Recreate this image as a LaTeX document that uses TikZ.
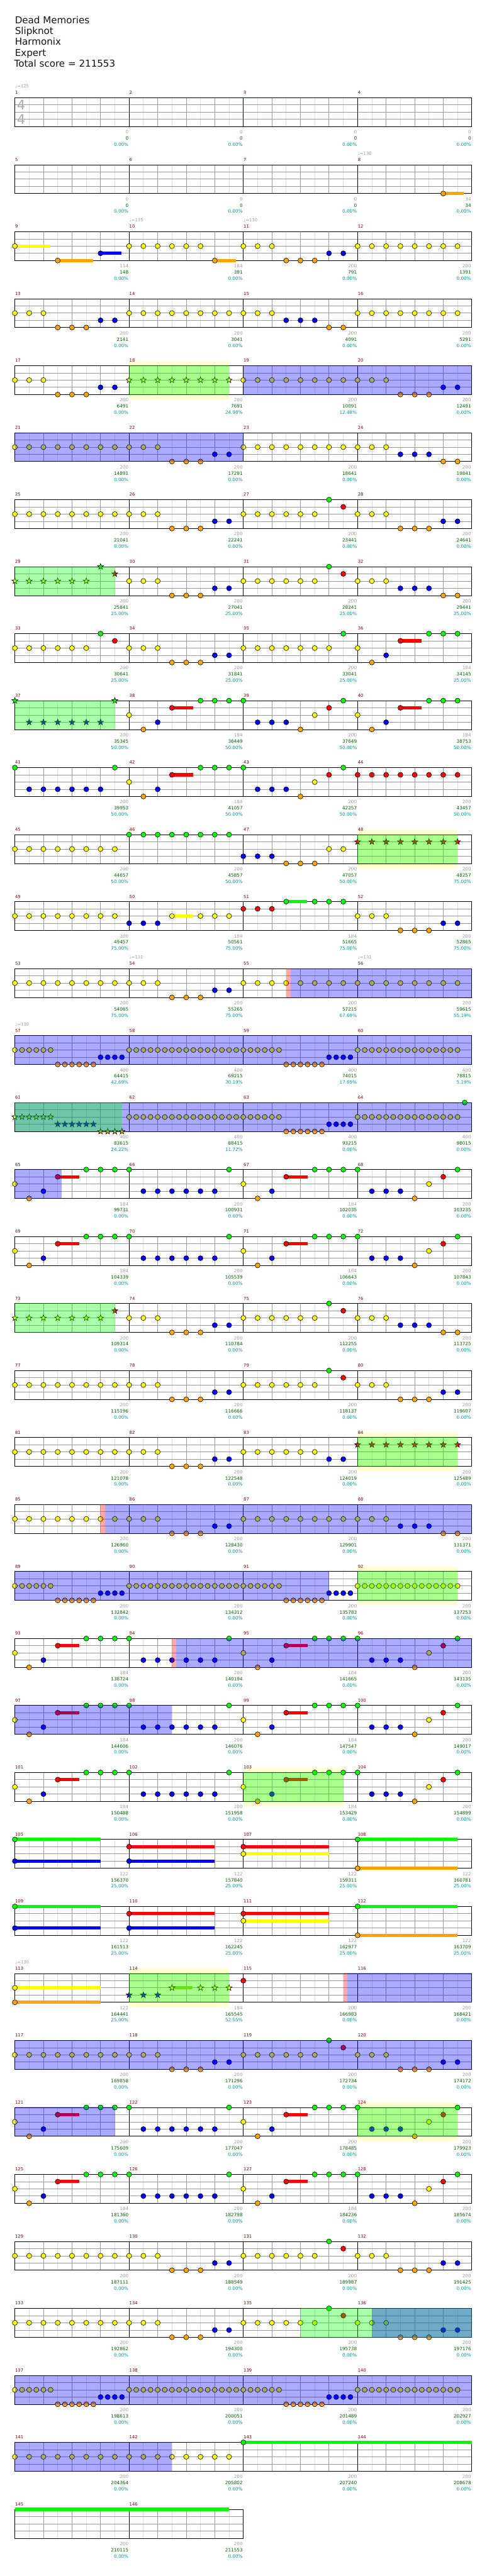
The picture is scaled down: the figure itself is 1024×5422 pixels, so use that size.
\documentclass[tikz,border=0pt]{standalone}
\usepackage{fontspec}
\setmainfont{DejaVu Sans}
\definecolor{ngreen}{RGB}{0,255,0}
\definecolor{nred}{RGB}{255,0,0}
\definecolor{nyellow}{RGB}{255,255,0}
\definecolor{nblue}{RGB}{0,0,255}
\definecolor{norange}{RGB}{255,165,0}
\definecolor{cMeasure}{RGB}{139,0,0}
\definecolor{cGrayTxt}{RGB}{160,160,160}
\definecolor{cGreenTxt}{RGB}{0,100,0}
\definecolor{cCyanTxt}{RGB}{0,153,153}
\definecolor{cQuarter}{RGB}{153,153,153}
\definecolor{cEighth}{RGB}{221,221,221}
\definecolor{cPaleY}{RGB}{255,255,208}
\definecolor{cTitle}{RGB}{20,20,20}
\tikzset{
  nt/.style={draw=black,line width=0.8},
  eighthline/.style={draw=cEighth,line width=1},
  quarterline/.style={draw=cQuarter,line width=1},
  barline/.style={draw=black,line width=1},
  mnum/.style={anchor=base west,inner sep=0,text=cMeasure,font=\fontsize{9}{10}\selectfont},
  tempomark/.style={anchor=base west,inner sep=0,text=cGrayTxt,font=\fontsize{9}{10}\selectfont},
  scA/.style={anchor=base east,inner sep=0,text=cGrayTxt,font=\fontsize{9.6}{11}\selectfont},
  scB/.style={anchor=base east,inner sep=0,text=cGreenTxt,font=\fontsize{9.6}{11}\selectfont},
  scC/.style={anchor=base east,inner sep=0,text=cCyanTxt,font=\fontsize{9.6}{11}\selectfont},
  titletxt/.style={anchor=base west,inner sep=0,text=cTitle,font=\fontsize{20}{23}\selectfont},
  timesig/.style={inner sep=0,text=black!33,font=\fontsize{28}{30}\selectfont}
}
\newcommand\nNote[4]{\foreach \p in {#4}{\draw[nt,fill=#3] ({31.3+\p*15.02},{205.7+141*#1+#2*15.17}) circle (5.3);}}
\newcommand\nStar[4]{\foreach \p in {#4}{\draw[nt,fill=#3,shift={({31.3+\p*15.02},{205.7+141*#1+#2*15.17})}] (270:6.6)--(306:2.7)--(342:6.6)--(18:2.7)--(54:6.6)--(90:2.7)--(126:6.6)--(162:2.7)--(198:6.6)--(234:2.7)--cycle;}}
\newcommand\nG[2]{\nNote{#1}{0}{ngreen}{#2}}
\newcommand\nR[2]{\nNote{#1}{1}{nred}{#2}}
\newcommand\nY[2]{\nNote{#1}{2}{nyellow}{#2}}
\newcommand\nB[2]{\nNote{#1}{3}{nblue}{#2}}
\newcommand\nO[2]{\nNote{#1}{4}{norange}{#2}}
\newcommand\stG[2]{\nStar{#1}{0}{ngreen}{#2}}
\newcommand\stR[2]{\nStar{#1}{1}{nred}{#2}}
\newcommand\stY[2]{\nStar{#1}{2}{nyellow}{#2}}
\newcommand\stB[2]{\nStar{#1}{3}{nblue}{#2}}
\newcommand\stO[2]{\nStar{#1}{4}{norange}{#2}}
\newcommand\sus[5]{\fill[#3] ({31.3+#4*15.02},{205.7+141*#1+#2*15.17-3.4}) rectangle ({31.3+#5*15.02},{205.7+141*#1+#2*15.17+3.4});}
\newcommand\ov[4]{\fill[#2,fill opacity=0.3333] ({31.3+#3*15.02},{205.7+141*#1-0.6}) rectangle ({31.3+#4*15.02},{205.7+141*#1+61.3});}
\newcommand\yb[3]{\fill[cPaleY] ({31.3+#2*15.02},{205.7+141*#1-10}) rectangle ({31.3+#3*15.02},{205.7+141*#1+71});}
\newcommand\grid[2]{%
  \pgfmathsetmacro\tp{205.7+141*#1}%
  \pgfmathsetmacro\bt{\tp+60.7}%
  \pgfmathsetmacro\xe{31.3+240.3*#2}%
  \pgfmathtruncatemacro\nk{8*#2}%
  \foreach \k in {1,...,\nk}{%
    \pgfmathtruncatemacro\ka{mod(\k,2)}%
    \ifnum\ka=1 \draw[eighthline] ({31.3+\k*30.0375},\tp) -- ({31.3+\k*30.0375},\bt);\fi}%
  \foreach \i in {1,2,3}{\draw[quarterline] (31.3,{\tp+\i*15.175}) -- (\xe,{\tp+\i*15.175});}%
  \foreach \k in {1,...,\nk}{%
    \pgfmathtruncatemacro\ka{mod(\k,2)}\pgfmathtruncatemacro\kb{mod(\k,8)}%
    \ifnum\ka=0 \ifnum\kb>0 \draw[quarterline] ({31.3+\k*30.0375},\tp) -- ({31.3+\k*30.0375},\bt);\fi\fi}%
  \foreach \k in {1,...,#2}{\draw[barline] ({31.3+\k*240.3},\tp) -- ({31.3+\k*240.3},\bt);}%
  \draw[barline] (31.3,\tp) rectangle (\xe,\bt);%
}
\newcommand\tempo[2]{%
  \pgfmathtruncatemacro\rr{(#1-1)/4}\pgfmathtruncatemacro\cc{#1-1-4*\rr}%
  \node[tempomark] (tp#1) at ({31.3+240.3*\cc+0.5},{205.7+141*\rr-20.7}) {♩=#2};}
\newcommand\patA[1]{%
  \sus{#1}{1}{nred}{6}{9}\sus{#1}{1}{nred}{38}{41}%
  \nY{#1}{0,32,58}\nO{#1}{2,34,56}\nB{#1}{4,36}\nR{#1}{6,38,60}%
  \nG{#1}{10,12,14,16,30,42,44,46,48,62}\nB{#1}{18,20,22,24,26,28}\nB{#1}{50,52,54}}
\newcommand\patV[1]{%
  \nY{#1}{0,2,...,20}\nO{#1}{22,24,26}\nB{#1}{28,30}\nY{#1}{32,34,...,42}\nG{#1}{44}\nR{#1}{46}%
  \nY{#1}{48,50,52}\nO{#1}{54,56,58}\nB{#1}{60,62}}
\newcommand\patS[1]{%
  \nY{#1}{0,...,5}\nO{#1}{6,...,11}\nB{#1}{12,...,15}\nY{#1}{16,...,37}\nO{#1}{38,...,43}\nB{#1}{44,...,47}\nY{#1}{48,...,62}}
\begin{document}
\begin{tikzpicture}[x=1pt,y=-1pt]
\useasboundingbox (0,0) rectangle (1024,5422);
\fill[white] (0,0) rectangle (1024,5422);
\node[titletxt] (t1) at (31.3,49.3) {Dead Memories};
\node[titletxt] (t2) at (31.3,72.3) {Slipknot};
\node[titletxt] (t3) at (31.3,95.3) {Harmonix};
\node[titletxt] (t4) at (31.3,118.3) {Expert};
\node[titletxt] (t5) at (29.7,141.3) {Total score = 211553};
% pale yellow bands
\yb{4}{16}{30}\yb{11}{48}{62}\yb{20}{48}{62}\yb{22}{48}{62}\yb{25}{32}{46}\yb{28}{16}{30}\yb{30}{48}{62}
% grids
\foreach \r in {0,...,35}{\grid{\r}{4}}
\grid{36}{2}
\node[timesig] (ts1) at (44.5,221) {4};
\node[timesig] (ts2) at (44.5,251) {4};
% ---- notes ----
\sus{1}{4}{norange}{60}{62.9}\nO{1}{60}
\sus{2}{2}{nyellow}{0}{4.95}\sus{2}{4}{norange}{6}{10.95}\sus{2}{3}{nblue}{12}{14.95}\sus{2}{4}{norange}{28}{30.95}
\nY{2}{0}\nY{2}{16,18,...,26}\nY{2}{32,34,36}\nY{2}{48,50,...,62}
\nO{2}{6,28,38,40,42}\nB{2}{12,44,46}
\nY{3}{0,2,4}\nY{3}{16,18,...,30}\nY{3}{32,34,36}\nY{3}{48,50,...,62}
\nO{3}{6,8,10,44,46}\nB{3}{12,14,38,40,42}
\nY{4}{0,2,4}\nO{4}{6,8,10}\nB{4}{12,14}\stY{4}{16,18,...,30}
\nY{4}{32,34,...,52}\nO{4}{54,56,58}\nB{4}{60,62}
\nY{5}{0,2,...,20}\nO{5}{22,24,26}\nB{5}{28,30}\nY{5}{32,34,...,52}\nB{5}{54,56,58}\nO{5}{60,62}
\patV{6}
\stY{7}{0,2,...,10}\stG{7}{12}\stR{7}{14}\nY{7}{16,18,20}\nO{7}{22,24,26}\nB{7}{28,30}
\nY{7}{32,34,...,42}\nG{7}{44}\nR{7}{46}\nY{7}{48,50,52}\nB{7}{54,56,58}\nO{7}{60,62}
\sus{8}{1}{nred}{54}{57}
\nY{8}{0,2,...,10}\nG{8}{12}\nR{8}{14}\nY{8}{16,18,20}\nO{8}{22,24,26}\nB{8}{28,30}
\nY{8}{32,34,...,44}\nG{8}{46}\nY{8}{48}\nO{8}{50}\nB{8}{52}\nR{8}{54}\nG{8}{58,60,62}
\sus{9}{1}{nred}{22}{25}\sus{9}{1}{nred}{54}{57}
\stG{9}{0,14}\stB{9}{2,4,...,12}\nY{9}{16,42,48}\nO{9}{18,40,50}\nB{9}{20,34,36,38,52}
\nR{9}{22,44,54}\nG{9}{26,28,30,32,46,58,60,62}
\sus{10}{1}{nred}{22}{25}
\nG{10}{0,14}\nB{10}{2,4,...,12}\nY{10}{16,42}\nO{10}{18,40}\nB{10}{20,34,36,38}
\nR{10}{22,44}\nG{10}{26,28,30,32,46}\nR{10}{48,50,...,62}
\nY{11}{0,2,...,14}\nG{11}{16,18,...,30}\nB{11}{32,34,36}\nO{11}{38,40,42}\nY{11}{44,46}\stR{11}{48,50,...,62}
\sus{12}{2}{nyellow}{22}{25}\sus{12}{0}{ngreen}{38}{40.9}
\nY{12}{0,2,...,14}\nB{12}{16,18,20}\nY{12}{22,26,28,30}\nR{12}{32,34,36}\nG{12}{38,42,44,46}
\nY{12}{48,50,52}\nO{12}{54,56,58}\nB{12}{60,62}
\nY{13}{0,2,...,20}\nO{13}{22,24,26}\nB{13}{28,30}\nY{13}{32,34,...,62}
\patS{14}
\stY{15}{0,...,5}\stB{15}{6,...,11}\stO{15}{12,...,15}\nY{15}{16,...,37}\nO{15}{38,...,43}\nB{15}{44,...,47}\nY{15}{48,...,62}\nG{15}{63}
\patA{16}\patA{17}
% rows 18-36
\stY{18}{0,2,...,12}\stR{18}{14}\nY{18}{16,18,20}\nO{18}{22,24,26}\nB{18}{28,30}
\nY{18}{32,34,...,42}\nG{18}{44}\nR{18}{46}\nY{18}{48,50,52}\nB{18}{54,56,58}\nO{18}{60,62}
\patV{19}
\nY{20}{0,2,...,20}\nO{20}{22,24,26}\nB{20}{28,30}\nY{20}{32,34,...,42}\nB{20}{44,46}\stR{20}{48,50,...,62}
\nY{21}{0,2,...,20}\nO{21}{22,24,26}\nB{21}{28,30}\nY{21}{32,34,...,52}\nB{21}{54,56,58}\nO{21}{60,62}
\patS{22}
\patA{23}\patA{24}
\patA{25}
\sus{26}{0}{ngreen}{0}{12}\sus{26}{3}{nblue}{0}{12}\sus{26}{1}{nred}{16}{28}\sus{26}{3}{nblue}{16}{28}
\sus{26}{1}{nred}{32}{44}\sus{26}{2}{nyellow}{32}{44}\sus{26}{0}{ngreen}{48}{62}\sus{26}{4}{norange}{48}{62}
\nG{26}{0,48}\nB{26}{0,16}\nR{26}{16,32}\nY{26}{32}\nO{26}{48}
\sus{27}{0}{ngreen}{0}{12}\sus{27}{3}{nblue}{0}{12}\sus{27}{1}{nred}{16}{28}\sus{27}{3}{nblue}{16}{28}
\sus{27}{1}{nred}{32}{44}\sus{27}{2}{nyellow}{32}{44}\sus{27}{0}{ngreen}{48}{62}\sus{27}{4}{norange}{48}{62}
\nG{27}{0,48}\nB{27}{0,16}\nR{27}{16,32}\nY{27}{32}\nO{27}{48}
\sus{28}{2}{nyellow}{0}{12}\sus{28}{4}{norange}{0}{12}\sus{28}{2}{yellow!60!green}{22}{24.9}
\nY{28}{0}\nO{28}{0}\stB{28}{16,18,20}\stY{28}{22,26,28,30}\nR{28}{32}\patV{29}
\patA{30}\patA{31}\patV{32}\patV{33}\patS{34}
\nY{35}{0,2,...,30}\sus{35}{0}{ngreen}{32}{64}\nG{35}{32}
\sus{36}{0}{ngreen}{0}{30}
% ---- overlays ----
\ov{4}{ngreen}{16}{30}\ov{4}{nblue}{32}{64}
\ov{5}{nblue}{0}{32}
\ov{7}{ngreen}{0}{14}
\ov{9}{ngreen}{0}{14}
\ov{11}{ngreen}{48}{62}
\ov{13}{nred}{38}{38.6}\ov{13}{nblue}{38.6}{64}
\ov{14}{nblue}{0}{64}
\ov{15}{nblue}{0}{64}\ov{15}{ngreen}{0}{15}
\ov{16}{nblue}{0}{6.57}
\ov{18}{ngreen}{0}{14}
\ov{20}{ngreen}{48}{62}
\ov{21}{nred}{12}{12.6}\ov{21}{nblue}{12.6}{64}
\ov{22}{nblue}{0}{44}\ov{22}{ngreen}{48}{62}
\ov{23}{nred}{22}{22.6}\ov{23}{nblue}{22.6}{64}
\ov{24}{nblue}{0}{22}
\ov{25}{ngreen}{32}{46}
\ov{28}{ngreen}{16}{30}\ov{28}{nred}{46}{46.6}\ov{28}{nblue}{46.6}{64}
\ov{29}{nblue}{0}{64}
\ov{30}{nblue}{0}{14}\ov{30}{ngreen}{48}{62}
\ov{33}{ngreen}{40}{64}\ov{33}{nblue}{50}{64}
\ov{34}{nblue}{0}{64}
\ov{35}{nblue}{0}{22}
% ---- texts ----
\foreach \m in {1,...,146}{%
  \pgfmathtruncatemacro\rr{(\m-1)/4}\pgfmathtruncatemacro\cc{\m-1-4*\rr}%
  \node[mnum] (mn\m) at ({31.3+240.3*\cc+0.5},{205.7+141*\rr-7.4}) {\m};}
\tempo{1}{125}\tempo{8}{130}\tempo{10}{135}\tempo{11}{130}\tempo{54}{131}\tempo{56}{131}\tempo{57}{130}\tempo{113}{130}
\foreach \m/\a/\b/\c in {1/0/0/0.00,2/0/0/0.00,3/0/0/0.00,4/0/0/0.00,5/0/0/0.00,6/0/0/0.00,7/0/0/0.00,8/34/34/0.00,
 9/114/148/0.00,10/184/391/0.00,11/200/791/0.00,12/200/1391/0.00,13/200/2141/0.00,14/200/3041/0.00,15/200/4091/0.00,16/200/5291/0.00,
 17/200/6491/0.00,18/200/7691/24.98,19/200/10091/12.48,20/200/12491/0.00,21/200/14891/0.00,22/200/17291/0.00,23/200/18641/0.00,24/200/19841/0.00,
 25/200/21041/0.00,26/200/22241/0.00,27/200/23441/0.00,28/200/24641/0.00,29/200/25841/25.00,30/200/27041/25.00,31/200/28241/25.00,32/200/29441/25.00,
 33/200/30641/25.00,34/200/31841/25.00,35/200/33041/25.00,36/184/34145/25.00,37/200/35345/50.00,38/184/36449/50.00,39/200/37649/50.00,40/184/38753/50.00,
 41/200/39953/50.00,42/184/41057/50.00,43/200/42257/50.00,44/200/43457/50.00,45/200/44657/50.00,46/200/45857/50.00,47/200/47057/50.00,48/200/48257/75.00,
 49/200/49457/75.00,50/184/50561/75.00,51/184/51665/75.00,52/200/52865/75.00,53/200/54065/75.00,54/200/55265/75.00,55/200/57215/67.69,56/200/59615/55.19,
 57/400/64415/42.69,58/400/69215/30.19,59/400/74015/17.69,60/400/78815/5.19,61/400/83615/24.22,62/400/88415/11.72,63/400/93215/0.00,64/400/98015/0.00,
 65/184/99731/0.00,66/200/100931/0.00,67/184/102035/0.00,68/200/103235/0.00,69/184/104339/0.00,70/200/105539/0.00,71/184/106643/0.00,72/200/107843/0.00,
 73/200/109314/0.00,74/200/110784/0.00,75/200/112255/0.00,76/200/113725/0.00,77/200/115196/0.00,78/200/116666/0.00,79/200/118137/0.00,80/200/119607/0.00,
 81/200/121078/0.00,82/200/122548/0.00,83/200/124019/0.00,84/200/125489/0.00,85/200/126960/0.00,86/200/128430/0.00,87/200/129901/0.00,88/200/131371/0.00,
 89/200/132842/0.00,90/200/134312/0.00,91/200/135783/0.00,92/200/137253/0.00,93/184/138724/0.00,94/200/140194/0.00,95/184/141665/0.00,96/200/143135/0.00,
 97/184/144606/0.00,98/200/146076/0.00,99/184/147547/0.00,100/200/149017/0.00,101/184/150488/0.00,102/200/151958/0.00,103/184/153429/0.00,104/200/154899/0.00,
 105/122/156370/25.00,106/122/157840/25.00,107/122/159311/25.00,108/122/160781/25.00,
 109/122/161513/25.00,110/122/162245/25.00,111/122/162977/25.00,112/122/163709/25.00,113/122/164441/25.00,114/184/165545/52.55,
 115/200/166983/0.00,116/200/168421/0.00,117/200/169858/0.00,118/200/171296/0.00,119/200/172734/0.00,120/200/174172/0.00,
 121/200/175609/0.00,122/200/177047/0.00,123/200/178485/0.00,124/200/179923/0.00,125/184/181360/0.00,126/200/182798/0.00,127/184/184236/0.00,128/200/185674/0.00,
 129/200/187111/0.00,130/200/188549/0.00,131/200/189987/0.00,132/200/191425/0.00,133/200/192862/0.00,134/200/194300/0.00,135/200/195738/0.00,136/200/197176/0.00,
 137/200/198613/0.00,138/200/200051/0.00,139/200/201489/0.00,140/200/202927/0.00,141/200/204364/0.00,142/200/205802/0.00,143/200/207240/0.00,144/200/208678/0.00,
 145/200/210115/0.00,146/200/211553/0.00}{%
  \pgfmathtruncatemacro\rr{(\m-1)/4}\pgfmathtruncatemacro\cc{\m-1-4*\rr}%
  \pgfmathsetmacro\xx{31.3+240.3*(\cc+1)-1.2}\pgfmathsetmacro\yy{205.7+141*\rr}%
  \node[scA] (sa\m) at (\xx,{\yy+76}) {\a};
  \node[scB] (sb\m) at (\xx,{\yy+89}) {\b};
  \node[scC] (sc\m) at (\xx,{\yy+102}) {\c\%};}
\end{tikzpicture}
\end{document}
